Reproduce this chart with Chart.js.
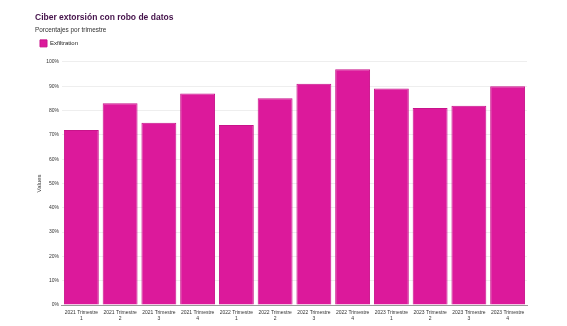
<!DOCTYPE html>
<html>
<head>
<meta charset="utf-8">
<script src="https://cdn.jsdelivr.net/npm/chart.js@4.4.1/dist/chart.umd.min.js"></script>
<style>
html,body{margin:0;padding:0;background:#fff;}
#wrap{width:567px;height:326px;position:relative;}
</style>
</head>
<body>
<div id="wrap"><canvas id="c" width="567" height="326"></canvas></div>
<script>
const categories = [
  ["2021 Trimestre","1"],["2021 Trimestre","2"],["2021 Trimestre","3"],["2021 Trimestre","4"],
  ["2022 Trimestre","1"],["2022 Trimestre","2"],["2022 Trimestre","3"],["2022 Trimestre","4"],
  ["2023 Trimestre","1"],["2023 Trimestre","2"],["2023 Trimestre","3"],["2023 Trimestre","4"]
];
const exfiltration = [72, 83, 75, 87, 74, 85, 91, 97, 89, 81, 82, 90];
const seriesName = "Exfiltration";
const titleText = "Ciber extorsión con robo de datos";
const subtitleText = "Porcentajes por trimestre";

const legendGap = {
  id: 'legendGap',
  beforeInit(chart) {
    const lg = chart.legend;
    if (!lg) return;
    const orig = lg.fit;
    lg.fit = function () { orig.call(this); this.height += 5; };
  }
};

new Chart(document.getElementById('c'), {
  type: 'bar',
  data: {
    labels: categories,
    datasets: [{
      label: seriesName,
      data: exfiltration,
      backgroundColor: '#dc199b',
      borderColor: '#c8138a',
      borderWidth: 1,
      categoryPercentage: 0.9,
      barPercentage: 1.0
    }]
  },
  plugins: [legendGap],
  options: {
    responsive: false,
    animation: false,
    layout: { padding: { left: 35, right: 40, top: 8, bottom: 0 } },
    plugins: {
      title: {
        display: true, text: titleText, align: 'start',
        color: '#45134b', font: { family: 'Liberation Sans', size: 8.5, weight: 'bold' },
        padding: { top: 5, bottom: 3 }
      },
      subtitle: {
        display: true, text: subtitleText, align: 'start',
        color: '#333', font: { family: 'Liberation Sans', size: 6.4 },
        padding: { top: 0, bottom: 1 }
      },
      legend: {
        display: true, align: 'start',
        labels: { boxWidth: 7, boxHeight: 7, color: '#222', font: { family: 'Liberation Sans', size: 6 }, padding: 5 }
      },
      tooltip: { enabled: false }
    },
    scales: {
      x: {
        grid: { display: false, drawTicks: false },
        border: { color: '#999' },
        ticks: { color: '#333', padding: 4, font: { family: 'Liberation Sans', size: 5, lineHeight: 1.3 }, maxRotation: 0, autoSkip: false }
      },
      y: {
        min: 0, max: 100,
        ticks: { stepSize: 10, padding: 3, color: '#333', font: { family: 'Liberation Sans', size: 5 }, callback: v => v + '%' },
        grid: { color: '#eeeeee', drawTicks: false },
        border: { display: false },
        title: { display: true, text: 'Values', color: '#333', padding: { top: 1, bottom: 0 }, font: { family: 'Liberation Sans', size: 6 } }
      }
    }
  }
});
</script>
</body>
</html>
